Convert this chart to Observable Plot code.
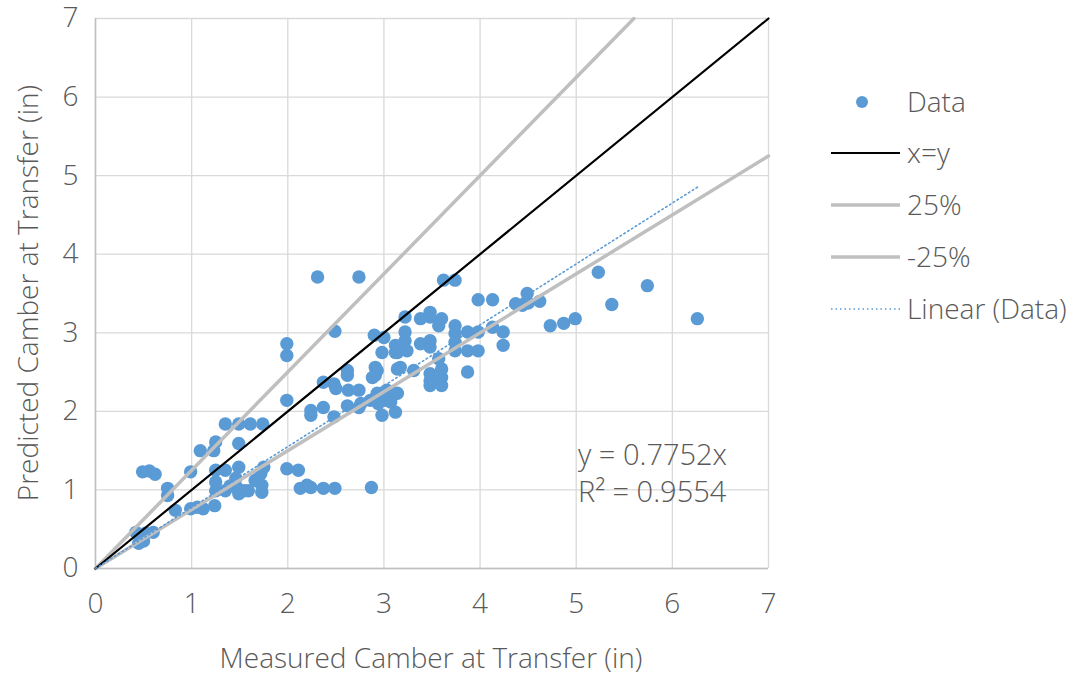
<!DOCTYPE html>
<html>
<head>
<meta charset="utf-8">
<script src="https://cdn.jsdelivr.net/npm/d3@7"></script>
<script src="https://cdn.jsdelivr.net/npm/@observablehq/plot@0.6"></script>
<style>
  html, body { margin: 0; padding: 0; background: #fff; }
  #wrap { position: relative; width: 1076px; height: 677px; font-family: "Open Sans", "Noto Sans", sans-serif; font-weight: 300; color: #595959; }
  .t { position: absolute; white-space: nowrap; font-size: 28px; line-height: 1; }
  .leg { position: absolute; left: 0; top: 0; }
</style>
</head>
<body>
<div id="wrap"></div>
<script>
// Measured camber at transfer (in)
const measured = [
  0.42,0.47,0.45,0.52,0.60,0.50,
  0.49,0.56,0.62,
  0.75,0.75,0.83,0.99,0.99,1.06,1.12,
  1.09,1.23,1.25,1.24,
  1.35,1.49,1.61,1.74,1.49,
  1.25,1.35,1.49,1.75,1.72,
  1.25,1.25,1.35,1.46,1.47,1.49,1.59,1.66,1.73,1.73,1.40,1.55,
  1.99,2.11,
  2.13,2.20,2.24,2.37,2.49,2.87,
  1.99,1.99,1.99,
  2.31,2.74,2.49,
  2.37,2.48,2.50,2.62,2.62,2.63,2.74,
  2.24,2.24,2.37,2.48,2.62,2.76,2.74,
  2.86,2.94,2.88,2.93,2.91,2.91,
  2.98,3.14,3.14,3.17,
  2.98,3.03,3.09,3.14,3.02,3.07,2.98,3.12,2.93,3.09,
  2.90,3.00,
  3.22,3.38,3.48,3.60,3.57,3.48,
  3.74,3.74,3.74,3.74,
  3.87,3.98,3.87,3.98,3.87,
  3.22,3.22,3.12,3.12,3.24,
  3.38,3.48,3.48,
  3.57,3.60,3.31,
  3.48,3.48,3.48,3.60,3.60,
  3.62,3.74,
  3.98,4.13,
  4.13,4.24,4.24,
  4.37,4.44,4.50,4.49,4.62,
  4.73,4.87,4.99,
  5.23,5.37,5.74,6.26
];
// Predicted camber at transfer (in)
const predicted = [
  0.46,0.40,0.32,0.45,0.46,0.35,
  1.23,1.24,1.20,
  1.02,0.93,0.74,1.23,0.76,0.78,0.76,
  1.50,1.50,1.61,0.80,
  1.84,1.84,1.84,1.84,1.59,
  1.25,1.25,1.29,1.29,1.21,
  1.10,0.99,0.99,1.15,1.03,0.95,0.99,1.12,1.06,0.97,1.05,0.99,
  1.27,1.25,
  1.02,1.06,1.03,1.02,1.02,1.03,
  2.86,2.71,2.14,
  3.71,3.71,3.02,
  2.37,2.35,2.29,2.52,2.46,2.27,2.27,
  2.01,1.95,2.05,1.93,2.07,2.10,2.05,
  2.14,2.10,2.43,2.52,2.56,2.46,
  2.75,2.75,2.54,2.56,
  2.23,2.27,2.20,2.23,2.14,2.12,1.95,1.99,2.23,2.24,
  2.97,2.94,
  3.20,3.18,3.26,3.18,3.09,3.20,
  3.09,2.99,2.88,2.77,
  3.01,3.01,2.77,2.77,2.50,
  3.01,2.90,2.84,2.75,2.77,
  2.86,2.90,2.82,
  2.67,2.54,2.52,
  2.48,2.39,2.33,2.43,2.33,
  3.67,3.67,
  3.42,3.42,
  3.07,3.01,2.84,
  3.37,3.35,3.38,3.50,3.40,
  3.09,3.12,3.18,
  3.77,3.36,3.60,3.18
];
const ticks = [0,1,2,3,4,5,6,7];
const slope = 0.7752;       // fitted trendline through origin
const r2 = 0.9554;
const bandFactors = [1.25, 0.75]; // 25%, -25%

const data = measured.map((m, i) => ({x: m, y: predicted[i]}));
const maxV = 7;
const refLine = [{x: 0, y: 0}, {x: maxV, y: maxV}];
const upper = [{x: 0, y: 0}, {x: maxV / bandFactors[0], y: maxV}];
const lower = [{x: 0, y: 0}, {x: maxV, y: maxV * bandFactors[1]}];
const xMax = d3.max(measured);
const trend = [{x: 0, y: 0}, {x: xMax, y: slope * xMax}];

const blue = "#5b9bd5";
const gray = "#bfbfbf";

const plot = Plot.plot({
  width: 1076,
  height: 677,
  marginLeft: 95,
  marginRight: 308,
  marginTop: 18,
  marginBottom: 109,
  style: {fontFamily: "'Open Sans', 'Noto Sans', sans-serif", fontSize: "28px", fontWeight: 300, color: "#595959", background: "#fff"},
  x: {domain: [0, 7], ticks: ticks, tickSize: 0, tickPadding: 25, label: null, tickFormat: d => String(d)},
  y: {domain: [0, 7], ticks: ticks, tickSize: 0, tickPadding: 17, label: null, tickFormat: d => String(d)},
  marks: [
    Plot.gridX(ticks, {stroke: "#d9d9d9", strokeOpacity: 1, strokeWidth: 1.3}),
    Plot.gridY(ticks, {stroke: "#d9d9d9", strokeOpacity: 1, strokeWidth: 1.3}),
    Plot.ruleX([0], {stroke: gray, strokeWidth: 1.5}),
    Plot.ruleY([0], {stroke: gray, strokeWidth: 1.5}),
    Plot.dot(data, {x: "x", y: "y", r: 6.7, fill: blue, stroke: "none"}),
    Plot.line(upper, {x: "x", y: "y", stroke: gray, strokeWidth: 3.5}),
    Plot.line(lower, {x: "x", y: "y", stroke: gray, strokeWidth: 3.5}),
    Plot.line(refLine, {x: "x", y: "y", stroke: "#000", strokeWidth: 2.2}),
    Plot.line(trend, {x: "x", y: "y", stroke: blue, strokeWidth: 1.6, strokeDasharray: "1.5,3"})
  ]
});

const wrap = document.getElementById("wrap");
wrap.appendChild(plot);

// Axis titles
const xt = document.createElement("div");
xt.className = "t";
xt.textContent = "Measured Camber at Transfer (in)";
xt.style.left = "431px"; xt.style.top = "657px";
xt.style.transform = "translate(-50%,-50%)";
wrap.appendChild(xt);

const yt = document.createElement("div");
yt.className = "t";
yt.textContent = "Predicted Camber at Transfer (in)";
yt.style.left = "27px"; yt.style.top = "293px";
yt.style.transform = "translate(-50%,-50%) rotate(-90deg)";
wrap.appendChild(yt);

// Equation annotation
const eq1 = document.createElement("div");
eq1.className = "t";
eq1.style.fontSize = "29px";
eq1.textContent = "y = " + slope + "x";
eq1.style.left = "578px"; eq1.style.top = "439px";
wrap.appendChild(eq1);
const eq2 = document.createElement("div");
eq2.className = "t";
eq2.style.fontSize = "29px";
eq2.innerHTML = "R² = " + r2;
eq2.style.left = "578px"; eq2.style.top = "476px";
wrap.appendChild(eq2);

// Legend
const legendItems = [
  {label: "Data", kind: "dot", y: 102},
  {label: "x=y", kind: "line", color: "#000", w: 2.2, y: 153},
  {label: "25%", kind: "line", color: gray, w: 3.5, y: 205},
  {label: "-25%", kind: "line", color: gray, w: 3.5, y: 257},
  {label: "Linear (Data)", kind: "dash", color: blue, w: 1.6, y: 309}
];
const ns = "http://www.w3.org/2000/svg";
const lsvg = document.createElementNS(ns, "svg");
lsvg.setAttribute("width", 1076); lsvg.setAttribute("height", 677);
lsvg.setAttribute("class", "leg");
lsvg.style.pointerEvents = "none";
legendItems.forEach(it => {
  if (it.kind === "dot") {
    const c = document.createElementNS(ns, "circle");
    c.setAttribute("cx", 862); c.setAttribute("cy", it.y); c.setAttribute("r", 6);
    c.setAttribute("fill", blue);
    lsvg.appendChild(c);
  } else {
    const l = document.createElementNS(ns, "line");
    l.setAttribute("x1", 831); l.setAttribute("x2", 900);
    l.setAttribute("y1", it.y); l.setAttribute("y2", it.y);
    l.setAttribute("stroke", it.color); l.setAttribute("stroke-width", it.w);
    if (it.kind === "dash") l.setAttribute("stroke-dasharray", "1.5,3");
    lsvg.appendChild(l);
  }
  const t = document.createElementNS(ns, "text");
  t.setAttribute("x", 907); t.setAttribute("y", it.y);
  t.setAttribute("dy", "0.35em");
  t.setAttribute("font-size", "28px");
  t.setAttribute("font-family", "'Open Sans', 'Noto Sans', sans-serif");
  t.setAttribute("font-weight", "300");
  t.setAttribute("fill", "#595959");
  t.textContent = it.label;
  lsvg.appendChild(t);
});
wrap.appendChild(lsvg);
</script>
</body>
</html>
